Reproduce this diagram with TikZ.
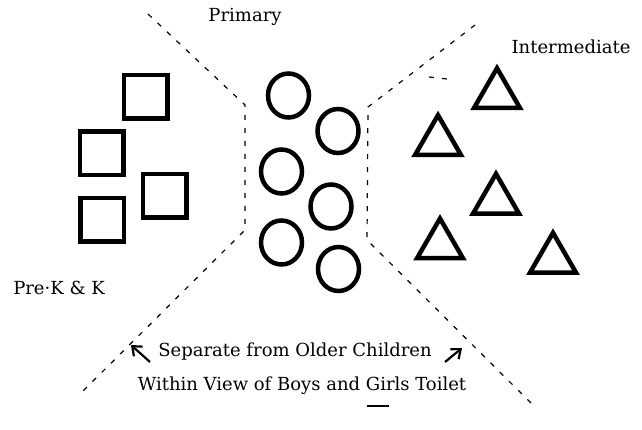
\documentclass[tikz,border=0pt]{standalone}
\usepackage{fontspec}
\setmainfont{DejaVu Serif}
\usetikzlibrary{shapes.geometric,arrows.meta}
\begin{document}
\begin{tikzpicture}[x=1pt,y=-1pt,
  blockshape/.style={draw, line width=4.5pt, minimum width=43.5pt, minimum height=43.5pt, inner sep=0pt},
  ringshape/.style={ellipse, draw, line width=4.5pt, minimum width=41pt, minimum height=44pt, inner sep=0pt},
  wedgeshape/.style={regular polygon, regular polygon sides=3, draw, line width=4.5pt, minimum size=53pt, inner sep=0pt, line join=miter},
  zone/.style={line width=1.2pt, dash pattern=on 5pt off 8pt},
  caption/.style={font=\fontsize{18}{22}\selectfont, inner sep=0pt},
  pointer/.style={line width=2.2pt, -{Straight Barb[length=8pt,width=13pt]}}]
\useasboundingbox (0,0) rectangle (642,430);

% zone boundaries
\coordinate (la) at (148,14);
\coordinate (lb) at (245,105);
\coordinate (lc) at (245,230);
\coordinate (ld) at (82,392);
\coordinate (ra) at (475,25);
\coordinate (rb) at (368,107);
\coordinate (rc) at (367,240);
\coordinate (rd) at (536,408);
\coordinate (sa) at (429,77);
\coordinate (sb) at (447,79);
\draw[zone] (la) -- (lb) -- (lc) -- (ld);
\draw[zone] (ra) -- (rb) -- (rc) -- (rd);
\draw[zone] (sa) -- (sb);

% Pre-K & K: squares
\node[blockshape] (sq1) at (145.5,97) {};
\node[blockshape] (sq2) at (101.5,153.5) {};
\node[blockshape] (sq3) at (164.5,196) {};
\node[blockshape] (sq4) at (102,220) {};

% Primary: circles
\node[ringshape] (ci1) at (288.5,95.5) {};
\node[ringshape] (ci2) at (338,131) {};
\node[ringshape] (ci3) at (281.5,171.5) {};
\node[ringshape] (ci4) at (331,206.5) {};
\node[ringshape] (ci5) at (281.5,242.5) {};
\node[ringshape] (ci6) at (338.5,269) {};

% Intermediate: triangles
\node[wedgeshape] (tr1) at (497,94.7) {};
\node[wedgeshape] (tr2) at (438,141.7) {};
\node[wedgeshape] (tr3) at (496,200.3) {};
\node[wedgeshape] (tr4) at (440,245) {};
\node[wedgeshape] (tr5) at (553,259.3) {};

% labels
\node[caption] (prim) at (245,17) {Primary};
\node[caption] (inter) at (571,47) {Intermediate};
\node[caption] (prek) at (59,288) {Pre·K \& K};
\node[caption] (sep) at (295,352) {Separate from Older Children};
\node[caption] (view) at (302,386) {Within View of Boys and Girls Toilet};

% arrows
\coordinate (lt) at (150,362);
\coordinate (lh) at (131,345);
\coordinate (rt) at (445,362);
\coordinate (rh) at (462,348);
\draw[pointer] (lt) -- (lh);
\draw[pointer] (rt) -- (rh);

% mark below the line
\coordinate (ua) at (367,406);
\coordinate (ub) at (389,406);
\draw[line width=2pt] (ua) -- (ub);
\end{tikzpicture}
\end{document}
